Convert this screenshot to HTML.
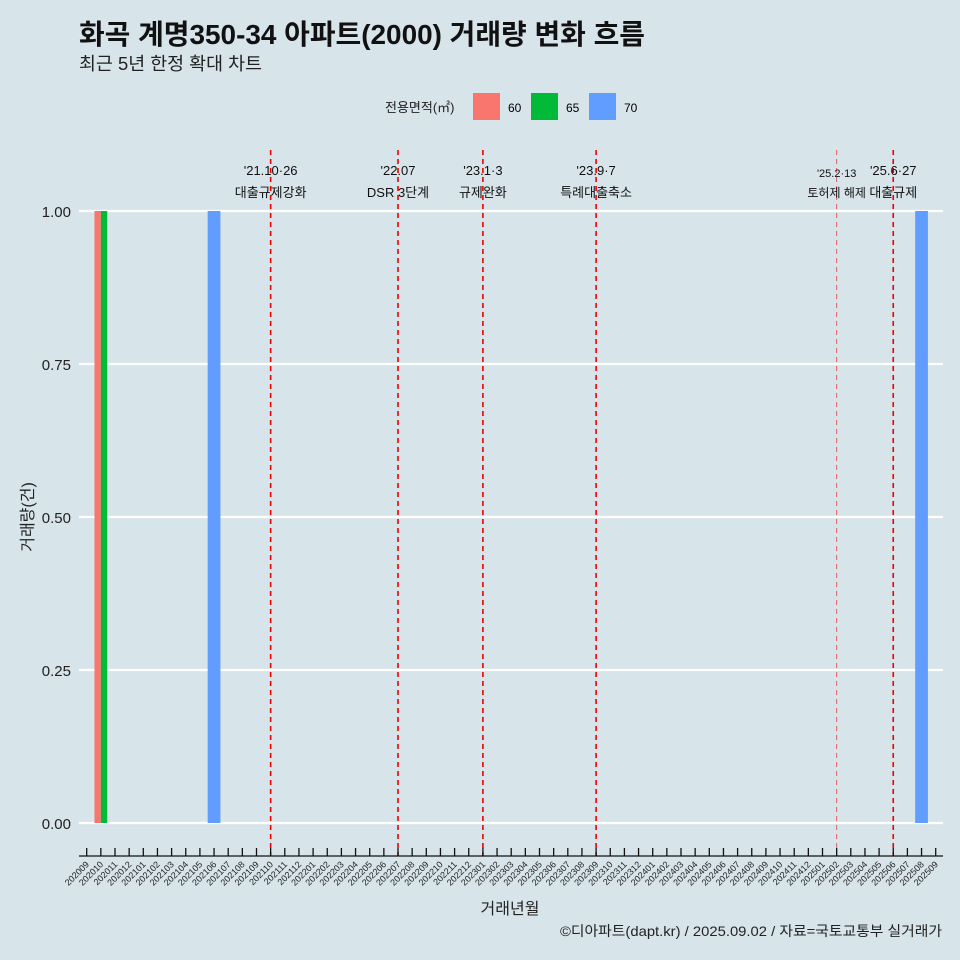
<!DOCTYPE html>
<html><head><meta charset="utf-8"><style>
html,body{margin:0;width:960px;height:960px;overflow:hidden;background:#d7e4ea;font-family:"Liberation Sans","Noto Sans CJK KR",sans-serif}
svg{display:block}
svg text{font-family:"Liberation Sans","Noto Sans CJK KR",sans-serif}
</style></head><body>
<svg width="960" height="960" xmlns="http://www.w3.org/2000/svg">
<rect width="960" height="960" fill="#d7e4ea"/>
<text x="79" y="44" font-size="28" font-weight="bold" fill="#111" textLength="566" lengthAdjust="spacingAndGlyphs">화곡 계명350-34 아파트(2000) 거래량 변화 흐름</text>
<text x="79" y="70" font-size="18" fill="#222" textLength="183" lengthAdjust="spacingAndGlyphs">최근 5년 한정 확대 차트</text>
<g>
<text x="385" y="112" font-size="13" fill="#222">전용면적(㎡)</text>
<rect x="473" y="93" width="27" height="27" fill="#f8766d"/>
<text x="508" y="112" font-size="12">60</text>
<rect x="531" y="93" width="27" height="27" fill="#00ba38"/>
<text x="566" y="112" font-size="12">65</text>
<rect x="589" y="93" width="27" height="27" fill="#619cff"/>
<text x="624" y="112" font-size="12">70</text>
</g>
<g id="plot"></g>
<text x="510" y="914" font-size="16" text-anchor="middle" fill="#222">거래년월</text>
<text transform="translate(33,517) rotate(-90)" font-size="16" text-anchor="middle" fill="#222">거래량(건)</text>
<text x="560" y="936" font-size="14" fill="#222" textLength="382" lengthAdjust="spacingAndGlyphs">©디아파트(dapt.kr) / 2025.09.02 / 자료=국토교통부 실거래가</text>
</svg>
<script>
const months = [];
for (let y = 2020; y <= 2025; y++) for (let m = 1; m <= 12; m++) { const k = y * 100 + m; if (k >= 202009 && k <= 202509) months.push(String(k)); }
const barMonths = ["202010", "202010", "202106", "202508"];
const barAreas = ["60", "65", "70", "70"];
const barValues = [1, 1, 1, 1];
const yTicks = [0, 0.25, 0.5, 0.75, 1.0];
const yTickLabels = ["0.00", "0.25", "0.50", "0.75", "1.00"];
const eventMonths = ["202110", "202207", "202301", "202309", "202502", "202506"];
const eventDates = ["'21.10·26", "'22.07", "'23.1·3", "'23.9·7", "'25.2·13", "'25.6·27"];
const eventNames = ["대출규제강화", "DSR 3단계", "규제완화", "특례대출축소", "토허제 해제", "대출규제"];
const colors = {"60": "#f8766d", "65": "#00ba38", "70": "#619cff"};

const NS = "http://www.w3.org/2000/svg";
const g = document.getElementById("plot");
const x0 = 86.7, step = 14.15;
const xS = m => x0 + months.indexOf(m) * step;
const yS = v => 823 - v * 612;
function mk(tag, attrs, parent) { const e = document.createElementNS(NS, tag); for (const k in attrs) e.setAttribute(k, attrs[k]); (parent || g).appendChild(e); return e; }

yTicks.forEach((t, i) => {
  const l = mk("line", {x1: 79, x2: 943, y1: yS(t), y2: yS(t), stroke: "#fff", "stroke-width": 2.2});
  
  
  const tx = mk("text", {x: 71, y: yS(t) + 6, "font-size": 15, "text-anchor": "end", fill: "#222"});
  tx.textContent = yTickLabels[i];
  
  
});

const bw = step * 0.9;
const groups = {};
barMonths.forEach((m, i) => { (groups[m] = groups[m] || []).push(i); });
Object.keys(groups).forEach(m => {
  const idx = groups[m]; const w = bw / idx.length;
  idx.forEach((i, j) => {
    const left = xS(m) - bw / 2 + j * w;
    const r = mk("rect", {x: left, y: yS(barValues[i]), width: w, height: yS(0) - yS(barValues[i]), fill: colors[barAreas[i]]});
    
    
  });
});

eventMonths.forEach((m, i) => {
  const x = xS(m);
  const faint = m === "202502";
  const l = mk("line", {x1: x, x2: x, y1: 150, y2: 856, stroke: faint ? "#e06060" : "#ee0000", "stroke-width": faint ? 1 : 1.6, "stroke-dasharray": "5,4"});
  
  
  const t1 = mk("text", {x: x, y: faint ? 177 : 175, "font-size": faint ? 11 : 13, "text-anchor": "middle", fill: "#111"});
  t1.textContent = eventDates[i];
  
  
  const t2 = mk("text", {x: x, y: 197, "font-size": faint ? 12 : 13, "text-anchor": "middle", fill: "#111"});
  t2.textContent = eventNames[i];
  
  
});

const ax = mk("line", {x1: 79, x2: 943, y1: 856, y2: 856, stroke: "#111", "stroke-width": 1.3});


months.forEach(m => {
  const x = xS(m);
  const t = mk("line", {x1: x, x2: x, y1: 848, y2: 856, stroke: "#111", "stroke-width": 1.3});
  
  
  const tx = mk("text", {x: 0, y: 0, "font-size": 9, "text-anchor": "end", fill: "#222", transform: `translate(${x + 3},${865}) rotate(-45)`});
  tx.textContent = m;
  
  
});
</script>
</body></html>
